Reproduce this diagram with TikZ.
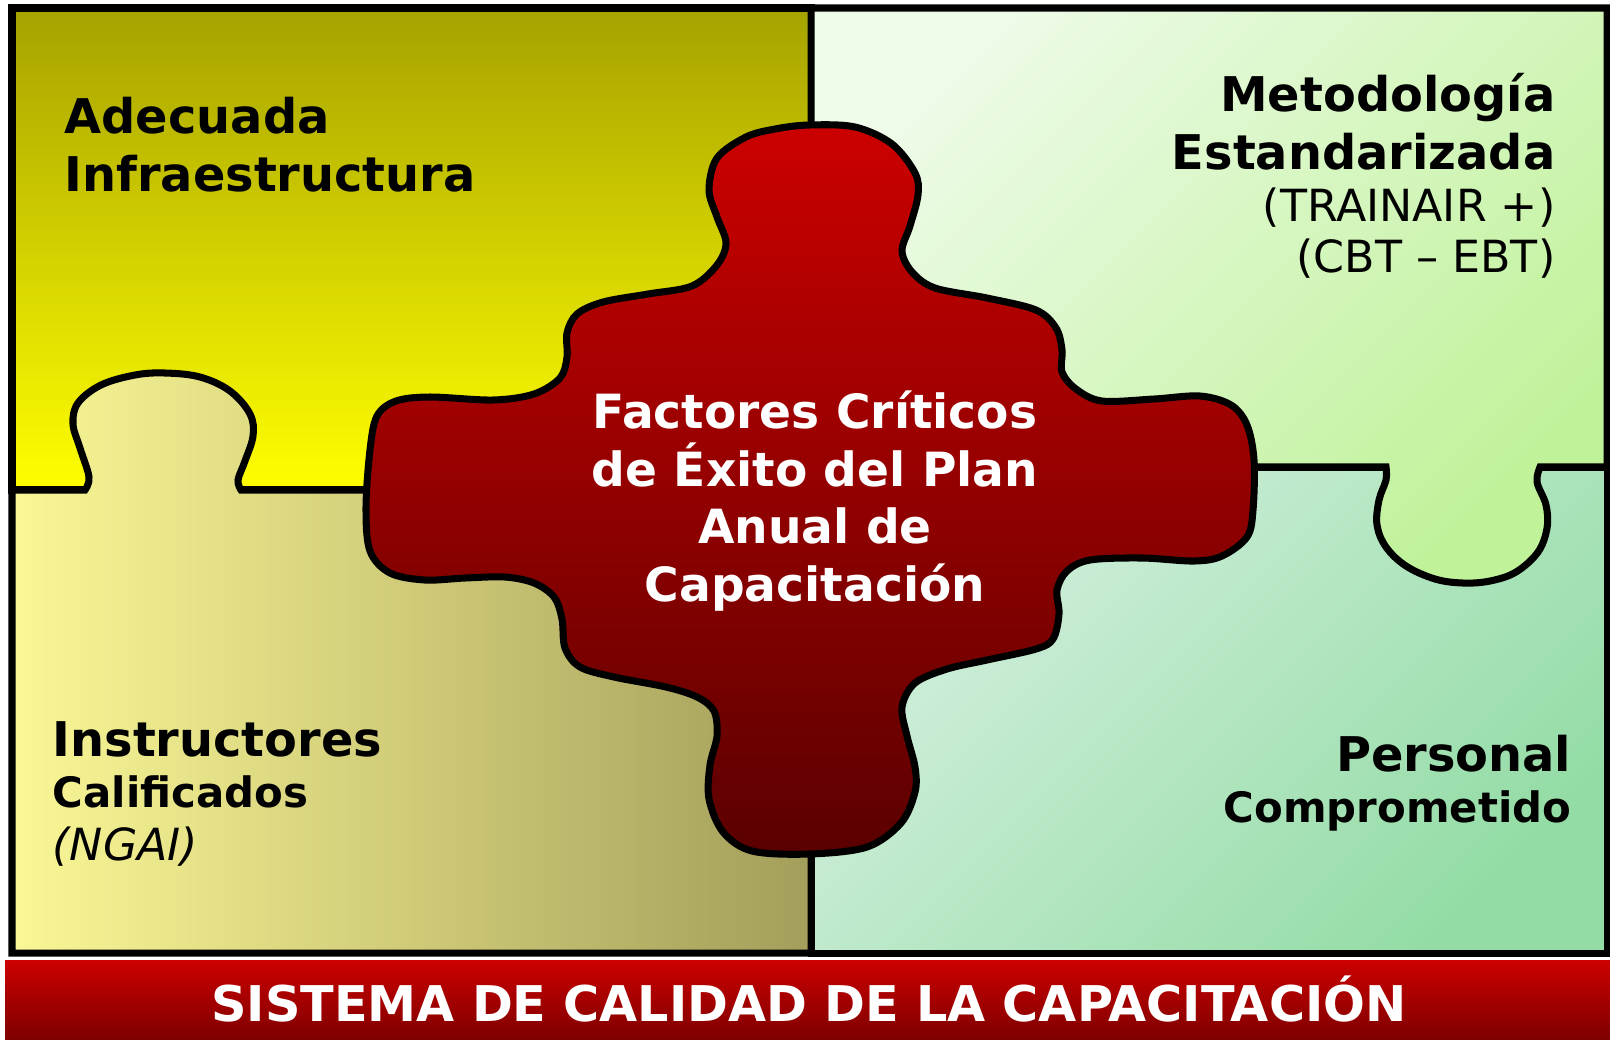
\documentclass[tikz,border=0pt]{standalone}
\usepackage{tikz}
\usepackage{xcolor}
\usepackage{fontspec}
\setmainfont{DejaVu Sans}
\definecolor{volive}{HTML}{A6A200}
\definecolor{vyellow}{HTML}{FFFF00}
\definecolor{vpaleyellow}{HTML}{FAF796}
\definecolor{vkhaki}{HTML}{A39E5A}
\definecolor{vmint}{HTML}{EDFBE8}
\definecolor{vlime}{HTML}{C0F29A}
\definecolor{vpalegreen}{HTML}{D4F0DF}
\definecolor{vgreen}{HTML}{94DCA6}
\definecolor{vred}{HTML}{CC0000}
\definecolor{vdarkred}{HTML}{5A0000}
\definecolor{vbarred}{HTML}{7E0000}

\tikzset{
	panel/.style={draw=black, line width=2pt},
	titletext/.style={font=\fontsize{13.6}{16}\selectfont\bfseries, inner sep=0pt},
	subtitletext/.style={font=\fontsize{11.9}{14}\selectfont\bfseries, inner sep=0pt},
	notetext/.style={font=\fontsize{12.6}{15}\selectfont, inner sep=0pt},
	centertext/.style={font=\fontsize{13.4}{16}\selectfont\bfseries, text=white, inner sep=0pt, anchor=base},
}

\begin{document}
\begin{tikzpicture}[x=0.01cm, y=-0.01cm]
		\useasboundingbox (0,0) rectangle (1610,1039);
		% four puzzle panels
		\draw[panel, top color=volive, bottom color=vyellow] (12,8) rectangle (811,490);
		\draw[panel, left color=vpaleyellow, right color=vkhaki] (12,490) -- plot[smooth, tension=.6] coordinates {(85,490) (89,477) (80,448) (73,424) (78,403) (101,385) (135,375) (165,373) (200,377) (230,391) (250,414) (253,436) (245,461) (238,480) (241,490)} -- (811,490) -- (811,953) -- (12,953) -- cycle;
		\draw[panel, top color=vpalegreen, bottom color=vgreen, shading angle=45] (811,467) rectangle (1607,953);
		\draw[panel, top color=vmint, bottom color=vlime, shading angle=45] (811,8) -- (1607,8) -- (1607,467) -- plot[smooth, tension=.6] coordinates {(1540,467) (1537,482) (1546,505) (1547,528) (1538,552) (1516,572) (1490,581) (1463,583) (1435,579) (1406,566) (1386,547) (1377,525) (1379,500) (1386,480) (1386,467)} -- (811,467) -- cycle;
		% central piece
		\draw[panel, top color=vred, bottom color=vdarkred] plot[smooth cycle, tension=.55] coordinates {(809,125) (855,127) (892,144) (915,173) (918,195) (910,226) (902,251) (912,272) (935,288) (987,298) (1036,310) (1056,328) (1062,350) (1062,372) (1076,389) (1102,401) (1154,399) (1200,396) (1231,405) (1247,425) (1254,460) (1253,510) (1247,537) (1222,556) (1194,561) (1142,558) (1090,560) (1067,571) (1057,590) (1059,614) (1053,639) (1036,649) (987,660) (947,669) (915,683) (902,707) (907,736) (915,767) (915,792) (901,823) (867,847) (809,854) (752,851) (723,832) (709,799) (710,765) (717,736) (714,711) (697,697) (666,687) (614,677) (580,667) (565,648) (562,619) (554,597) (534,583) (505,577) (465,578) (425,580) (390,573) (370,551) (366,508) (370,450) (377,416) (396,401) (430,397) (493,400) (534,394) (560,378) (567,357) (567,333) (577,314) (603,302) (648,294) (692,286) (717,265) (726,243) (717,217) (709,190) (717,158) (746,137) (775,129)};
		% bottom bar
		\fill[top color=vred, bottom color=vbarred] (5,960) rectangle (1610,1039);
		\node[font=\fontsize{14}{17}\selectfont\bfseries, text=white, inner sep=0pt, anchor=base] (sistema) at (809,1021) {SISTEMA DE CALIDAD DE LA CAPACITACIÓN};
		% texts
		\node[titletext, anchor=base west] (adecuada) at (64,133) {Adecuada};
		\node[titletext, anchor=base west] (infra) at (64,191) {Infraestructura};
		\node[titletext, anchor=base east] (metodo) at (1556,111) {Metodología};
		\node[titletext, anchor=base east] (estandar) at (1556,169) {Estandarizada};
		\node[notetext, anchor=base east] (trainair) at (1556,221) {(TRAINAIR +)};
		\node[notetext, anchor=base east] (cbt) at (1556,272) {(CBT – EBT)};
		\node[titletext, anchor=base west] (instructores) at (52,756) {Instructores};
		\node[subtitletext, anchor=base west] (calificados) at (52,807) {Calificados};
		\node[notetext, anchor=base west] (ngai) at (52,860) {\itshape (NGAI)};
		\node[titletext, anchor=base east] (personal) at (1572,771) {Personal};
		\node[subtitletext, anchor=base east] (comprometido) at (1572,822) {Comprometido};
		\node[centertext] (factores) at (815,428) {Factores Críticos};
		\node[centertext] (exito) at (815,486) {de Éxito del Plan};
		\node[centertext] (anual) at (815,543) {Anual de};
		\node[centertext] (capacitacion) at (815,601) {Capacitación};
	\end{tikzpicture}
\end{document}
